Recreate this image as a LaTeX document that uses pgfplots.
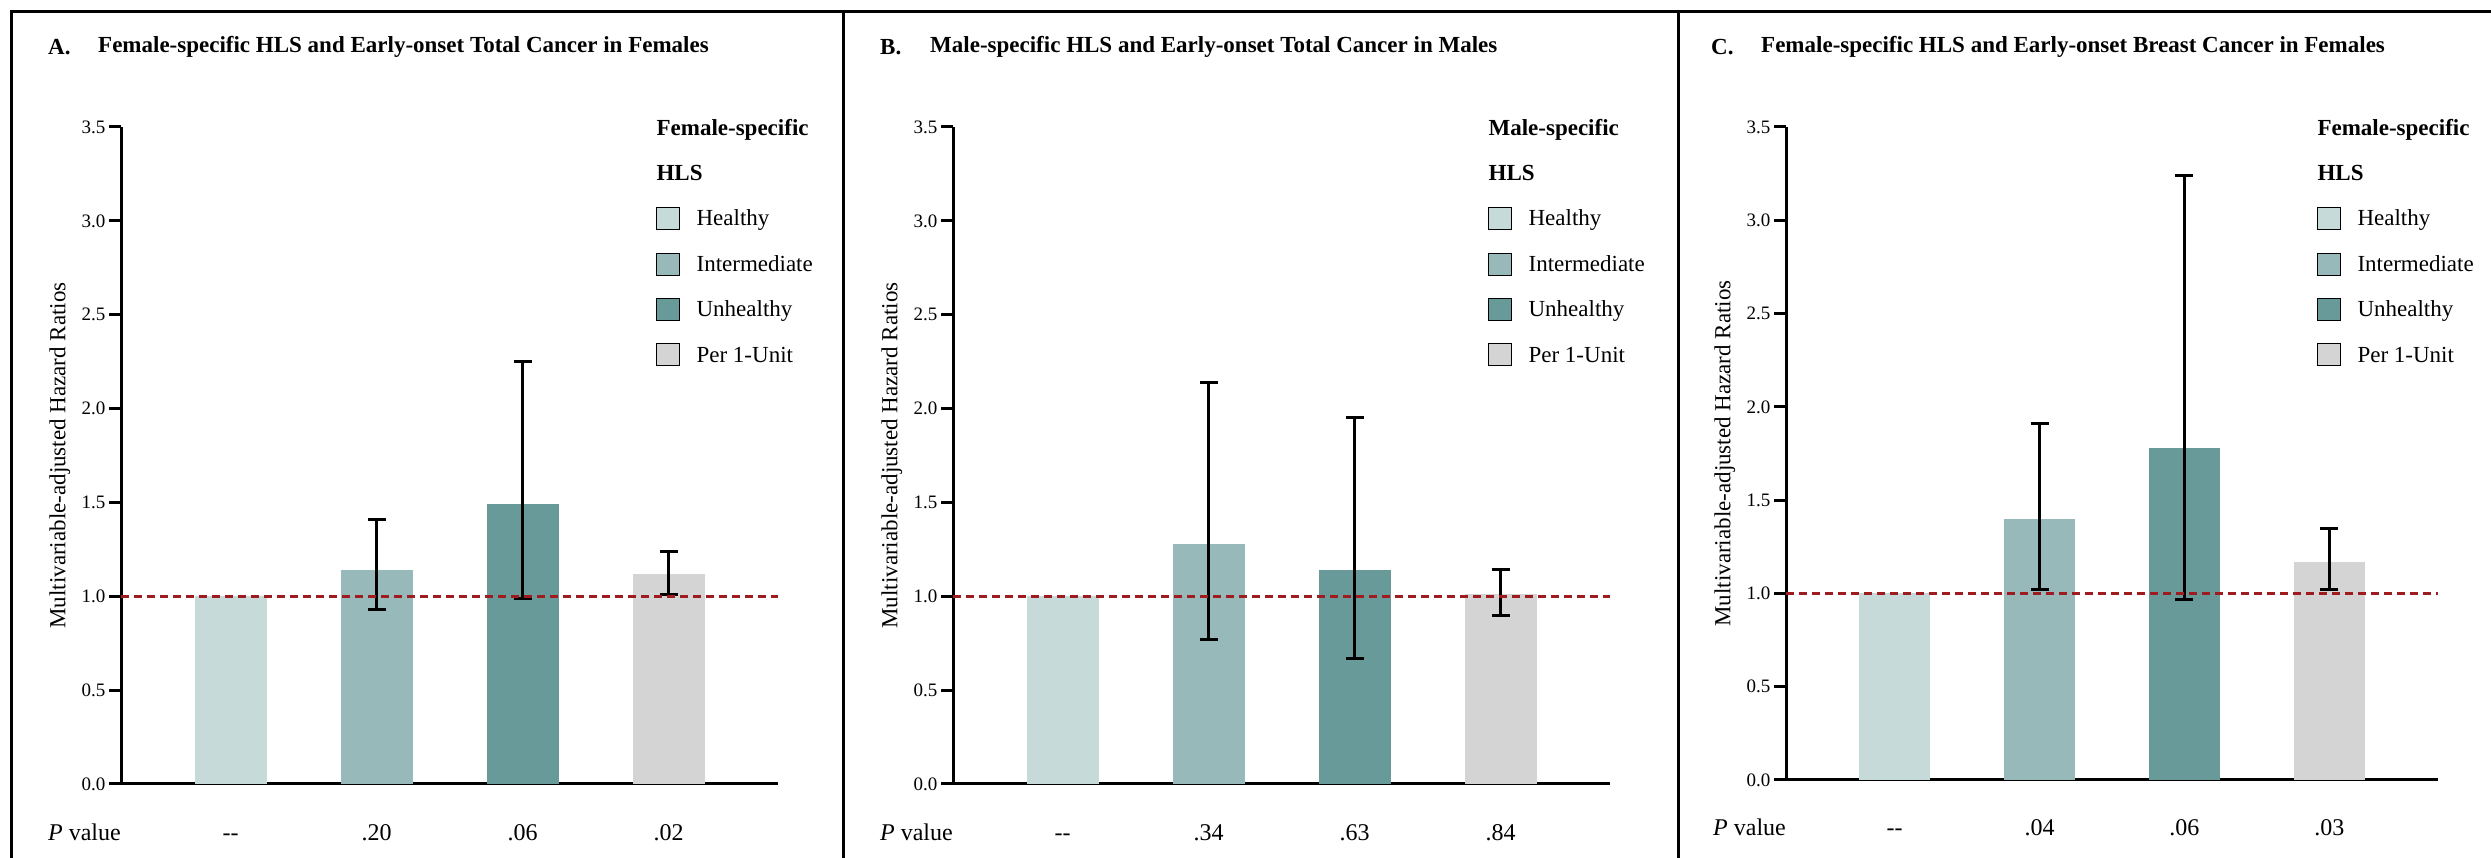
\documentclass[border=0pt]{standalone}
\usepackage{fontspec}
\setmainfont{Liberation Serif}
\usepackage{pgfplots}
\pgfplotsset{compat=1.18}

\definecolor{cH}{HTML}{C5DAD9}
\definecolor{cI}{HTML}{97B9B9}
\definecolor{cU}{HTML}{689A9A}
\definecolor{cP}{HTML}{D4D4D4}
\definecolor{dred}{HTML}{9E1B1F}

\newcommand{\fs}[1]{\fontsize{#1}{#1}\selectfont}

\pgfplotsset{
  panel/.style={
    scale only axis, anchor=south west,
    width=657pt, height=657pt,
    xmin=-0.75, xmax=3.75, ymin=0, ymax=3.5,
    axis x line*=bottom, axis y line*=left,
    axis line style={line width=3pt, -},
    ytick={0,0.5,1,1.5,2,2.5,3,3.5},
    xtick={0,1,2,3},
    major tick length=12pt, tick align=outside,
    tick style={line width=3pt, black},
    major x tick style=transparent,
    yticklabel style={font=\fs{19}, /pgf/number format/.cd, fixed, fixed zerofill, precision=1, assume math mode=true},
    xticklabel style={font=\fs{24}, anchor=base, yshift=-45pt, inner sep=0pt},
    every axis y label/.style={at={(axis description cs:-0.093,0.5)}, rotate=90, anchor=center, font=\fs{23}},
    ylabel={Multivariable-adjusted Hazard Ratios},
    ybar, bar width=72pt, bar shift=0pt,
    clip=false,
    legend style={at={(axis description cs:0.8143,1.0152)}, anchor=north west, draw=none, fill=none, inner sep=0pt, row sep=23pt, column sep=17pt, font=\fs{23}, nodes={inner sep=0pt, text height=18.5pt, text depth=3.5pt}},
    legend cell align=left,
    legend image code/.code={\fill[##1] (0pt,-11pt) rectangle (23pt,11pt);},
  },
  hb/.style={fill=#1, draw=none, forget plot},
  eb/.style={error bars/.cd, y dir=both, y explicit, error bar style={line width=3pt, black}, error mark options={rotate=90, mark size=9pt, line width=3pt, black}},
  refline/.style={dred, line width=3pt, dash pattern=on 8pt off 5pt, sharp plot, forget plot},
}

\begin{document}
\begin{tikzpicture}
\useasboundingbox (0pt,0pt) rectangle (2491pt,858pt);
% frame
\draw[line width=3pt] (11pt,0pt) -- (11pt,846pt) -- (2491pt,846pt);
\draw[line width=3pt] (843pt,0pt) -- (843pt,846pt);
\draw[line width=3pt] (1678pt,0pt) -- (1678pt,846pt);
% titles
\node[anchor=west, inner sep=0pt, font=\bfseries\fs{23}] at (48pt,811pt) {A.};
\node[anchor=west, inner sep=0pt, font=\bfseries\fs{23}] at (98pt,811pt) {Female-specific HLS and Early-onset Total Cancer in Females};
\node[anchor=west, inner sep=0pt, font=\bfseries\fs{23}] at (880pt,811pt) {B.};
\node[anchor=west, inner sep=0pt, font=\bfseries\fs{23}] at (930pt,811pt) {Male-specific HLS and Early-onset Total Cancer in Males};
\node[anchor=west, inner sep=0pt, font=\bfseries\fs{23}] at (1711pt,811pt) {C.};
\node[anchor=west, inner sep=0pt, font=\bfseries\fs{23}] at (1761pt,811pt) {Female-specific HLS and Early-onset Breast Cancer in Females};

% ---------------- Panel A
\begin{axis}[panel, at={(121pt,74pt)}, xticklabels={{-{}-},.20,.06,.02}]
\addplot[hb=cH] coordinates {(0,1.00)};
\addplot[hb=cI, eb] coordinates {(1,1.14) += (0,0.27) -= (0,0.21)};
\addplot[hb=cU, eb] coordinates {(2,1.49) += (0,0.76) -= (0,0.50)};
\addplot[hb=cP, eb] coordinates {(3,1.12) += (0,0.12) -= (0,0.11)};
\addplot[refline] coordinates {(-0.75,1) (3.75,1)};
\addlegendimage{empty legend}\addlegendentry{\hspace*{-40pt}\textbf{Female-specific}}
\addlegendimage{empty legend}\addlegendentry{\hspace*{-40pt}\textbf{HLS}}
\addlegendimage{fill=cH}\addlegendentry{Healthy}
\addlegendimage{fill=cI}\addlegendentry{Intermediate}
\addlegendimage{fill=cU}\addlegendentry{Unhealthy}
\addlegendimage{fill=cP}\addlegendentry{Per 1-Unit}
\node[anchor=base east, inner sep=0pt, font=\fs{24}] at (axis description cs:0,0) [yshift=-57pt] {\textit{P} value};
\end{axis}

% ---------------- Panel B
\begin{axis}[panel, at={(953pt,74pt)}, xticklabels={{-{}-},.34,.63,.84}]
\addplot[hb=cH] coordinates {(0,1.00)};
\addplot[hb=cI, eb] coordinates {(1,1.28) += (0,0.86) -= (0,0.51)};
\addplot[hb=cU, eb] coordinates {(2,1.14) += (0,0.81) -= (0,0.47)};
\addplot[hb=cP, eb] coordinates {(3,1.01) += (0,0.13) -= (0,0.11)};
\addplot[refline] coordinates {(-0.75,1) (3.75,1)};
\addlegendimage{empty legend}\addlegendentry{\hspace*{-40pt}\textbf{Male-specific}}
\addlegendimage{empty legend}\addlegendentry{\hspace*{-40pt}\textbf{HLS}}
\addlegendimage{fill=cH}\addlegendentry{Healthy}
\addlegendimage{fill=cI}\addlegendentry{Intermediate}
\addlegendimage{fill=cU}\addlegendentry{Unhealthy}
\addlegendimage{fill=cP}\addlegendentry{Per 1-Unit}
\node[anchor=base east, inner sep=0pt, font=\fs{24}] at (axis description cs:0,0) [yshift=-57pt] {\textit{P} value};
\end{axis}

% ---------------- Panel C
\begin{axis}[panel, at={(1786pt,78pt)}, width=652pt, height=653pt, bar width=71pt,
  every axis y label/.style={at={(axis description cs:-0.094,0.5)}, rotate=90, anchor=center, font=\fs{23}},
  xticklabel style={yshift=1pt},
  xticklabels={{-{}-},.04,.06,.03}]
\addplot[hb=cH] coordinates {(0,1.00)};
\addplot[hb=cI, eb] coordinates {(1,1.40) += (0,0.51) -= (0,0.38)};
\addplot[hb=cU, eb] coordinates {(2,1.78) += (0,1.46) -= (0,0.81)};
\addplot[hb=cP, eb] coordinates {(3,1.17) += (0,0.18) -= (0,0.15)};
\addplot[refline] coordinates {(-0.75,1) (3.75,1)};
\addlegendimage{empty legend}\addlegendentry{\hspace*{-40pt}\textbf{Female-specific}}
\addlegendimage{empty legend}\addlegendentry{\hspace*{-40pt}\textbf{HLS}}
\addlegendimage{fill=cH}\addlegendentry{Healthy}
\addlegendimage{fill=cI}\addlegendentry{Intermediate}
\addlegendimage{fill=cU}\addlegendentry{Unhealthy}
\addlegendimage{fill=cP}\addlegendentry{Per 1-Unit}
\node[anchor=base east, inner sep=0pt, font=\fs{24}] at (axis description cs:0,0) [yshift=-56pt] {\textit{P} value};
\end{axis}
\end{tikzpicture}
\end{document}
